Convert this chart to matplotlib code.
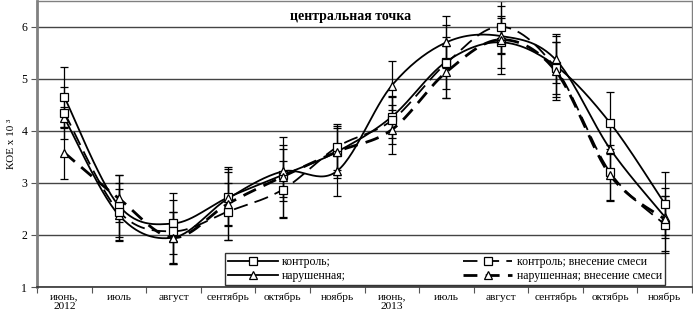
import numpy as np
import matplotlib
matplotlib.use("Agg")
import matplotlib.pyplot as plt
from matplotlib.lines import Line2D

plt.rcParams['font.family'] = ['Liberation Serif', 'DejaVu Serif']

categories = ["июнь,\n2012", "июль", "август", "сентябрь", "октябрь", "ноябрь",
              "июнь,\n2013", "июль", "август", "сентябрь", "октябрь", "ноябрь"]

control = [4.65, 2.56, 2.22, 2.72, 3.15, 3.60, 4.27, 5.33, 5.70, 5.25, 4.15, 2.60]
control_err = [0.58, 0.60, 0.58, 0.55, 0.50, 0.50, 0.40, 0.70, 0.50, 0.60, 0.60, 0.60]

disturbed = [4.25, 2.38, 1.95, 2.70, 3.22, 3.23, 4.87, 5.70, 5.82, 5.37, 3.65, 2.35]
disturbed_err = [0.20, 0.50, 0.50, 0.50, 0.50, 0.48, 0.48, 0.50, 0.35, 0.45, 0.50, 0.40]

control_mix = [4.35, 2.45, 2.07, 2.45, 2.87, 3.69, 4.20, 5.30, 6.00, 5.20, 3.20, 2.20]
control_mix_err = [0.50, 0.55, 0.60, 0.55, 0.55, 0.45, 0.45, 0.50, 0.50, 0.50, 0.52, 0.55]

disturbed_mix = [3.58, 2.70, 1.95, 2.60, 3.12, 3.60, 4.02, 5.13, 5.75, 5.15, 3.15, 2.30]
disturbed_mix_err = [0.50, 0.45, 0.50, 0.70, 0.77, 0.45, 0.47, 0.50, 0.65, 0.55, 0.50, 0.60]

labels = ["контроль;", "нарушенная;", "контроль; внесение смеси", "нарушенная; внесение смеси"]


def smooth(xs, ys, n=30):
    P = np.column_stack([xs, ys]).astype(float)
    Pe = np.vstack([P[0], P, P[-1]])
    out = []
    t = np.linspace(0, 1, n)[:, None]
    for i in range(len(P) - 1):
        p0, p1, p2, p3 = Pe[i], Pe[i + 1], Pe[i + 2], Pe[i + 3]
        c1 = p1 + (p2 - p0) / 6.0
        c2 = p2 - (p3 - p1) / 6.0
        seg = ((1 - t) ** 3) * p1 + 3 * ((1 - t) ** 2) * t * c1 + 3 * (1 - t) * t ** 2 * c2 + t ** 3 * p2
        out.append(seg if i == 0 else seg[1:])
    c = np.vstack(out)
    return c[:, 0], c[:, 1]


fig = plt.figure(figsize=(6.93, 3.17), dpi=100)
ax = fig.add_axes([0.0534, 0.0946, 0.9452, 0.9034])

x = np.arange(len(categories))

series = [
    (control, control_err, 's', dict(color='black', lw=1.3, ls='-')),
    (disturbed, disturbed_err, '^', dict(color='black', lw=1.3, ls='-')),
    (control_mix, control_mix_err, 's', dict(color='black', lw=1.3, ls=(0, (8, 4)))),
    (disturbed_mix, disturbed_mix_err, '^', dict(color='black', lw=2.0, ls=(0, (5, 3)))),
]

MS = {'s': 5.8, '^': 6.3}
handles = []
for (vals, err, mk, style), lab in zip(series, labels):
    ax.errorbar(x, vals, yerr=err, fmt='none', ecolor='black', elinewidth=0.9,
                capsize=3, capthick=0.9, zorder=2)
for (vals, err, mk, style), lab in zip(series, labels):
    sx, sy = smooth(x, vals)
    ax.plot(sx, sy, zorder=3, **style)
for (vals, err, mk, style), lab in zip(series, labels):
    ax.plot(x, vals, ls='none', marker=mk, ms=MS[mk],
            mfc='white', mec='black', mew=0.9, zorder=4)
    handles.append(Line2D([], [], marker=mk, ms=MS[mk], mfc='white',
                          mec='black', mew=0.9, **style))

ax.set_xlim(-0.5, len(categories) - 0.5)
ax.set_ylim(1, 6.5)
ax.set_yticks([1, 2, 3, 4, 5, 6])
ax.yaxis.grid(True, color='#444444', lw=1.0)
ax.set_axisbelow(True)

ax.set_xticks(np.arange(-0.5, len(categories) + 0.5, 1))
ax.set_xticklabels([])
ax.set_xticks(x, minor=True)
ax.set_xticklabels(categories, minor=True, fontsize=8.2, linespacing=1.0)
ax.tick_params(axis='x', which='minor', length=0, pad=4)
ax.tick_params(axis='x', which='major', length=4, direction='out', color='#555555')
ax.tick_params(axis='y', length=4, direction='out', labelsize=8.5, color='#555555', pad=3)

for side in ['top', 'right']:
    ax.spines[side].set_color('#808080')
    ax.spines[side].set_linewidth(1.0)
ax.spines['left'].set_color('#808080')
ax.spines['left'].set_linewidth(2.0)
ax.spines['bottom'].set_color('#333333')
ax.spines['bottom'].set_linewidth(1.2)

ax.set_ylabel("КОЕ х 10 ³", fontsize=8, labelpad=4)

ax.text(0.478, 0.944, "центральная точка", transform=ax.transAxes, ha='center',
        va='center', fontsize=10, fontweight='bold')

leg = ax.legend(handles, labels, ncol=2, loc='lower left',
                bbox_to_anchor=(0.287, 0.007, 0.672, 0.082), mode='expand',
                fontsize=8.5, frameon=True, fancybox=False, edgecolor='black',
                handlelength=4.2, handletextpad=0.4, borderpad=0.25, labelspacing=0.2,
                borderaxespad=0, columnspacing=1.0)
leg.get_frame().set_linewidth(1.0)
leg.set_zorder(5)

fig.savefig("out.png", dpi=100)
